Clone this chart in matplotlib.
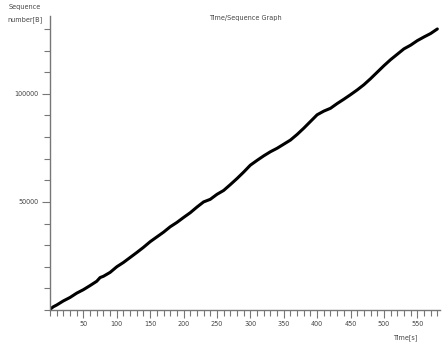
import matplotlib
matplotlib.use("Agg")
import matplotlib.pyplot as plt
from matplotlib.ticker import MultipleLocator, FixedLocator

time_s = [0, 2, 5, 10, 20, 30, 40, 50, 60, 70, 75, 80, 90, 100, 110, 120, 130, 140,
          150, 160, 170, 180, 190, 200, 210, 220, 230, 240, 250, 260, 270, 280,
          290, 300, 310, 320, 330, 340, 350, 360, 370, 380, 390, 400, 410, 420,
          430, 440, 450, 460, 470, 480, 490, 500, 510, 520, 530, 540, 550, 560,
          570, 580]
seq_b = [0, 800, 1500, 2300, 4200, 5800, 7800, 9400, 11300, 13300, 15000, 15600,
         17400, 20000, 22000, 24300, 26600, 29000, 31600, 33800, 36000, 38500,
         40500, 42800, 45000, 47600, 50000, 51200, 53500, 55300, 58000, 60800,
         63800, 67000, 69200, 71300, 73200, 74800, 76700, 78600, 81200, 84100,
         87200, 90300, 92000, 93300, 95500, 97500, 99600, 101800, 104200, 107000,
         110000, 113000, 115800, 118300, 120800, 122500, 124600, 126300, 127900,
         130000]

x_major = [50, 100, 150, 200, 250, 300, 350, 400, 450, 500, 550]
y_major = [50000, 100000]

W, H = 443, 342
fig = plt.figure(figsize=(W / 100, H / 100), dpi=100)
ax = fig.add_axes([50 / W, (H - 310) / H, (440 - 50) / W, (310 - 16) / H])

ax.plot(time_s, seq_b, color="black", linewidth=2.2, solid_capstyle="round")

ax.set_xlim(0, 584)
ax.set_ylim(0, 136000)
ax.xaxis.set_major_locator(FixedLocator(x_major))
ax.xaxis.set_minor_locator(MultipleLocator(10))
ax.yaxis.set_major_locator(FixedLocator(y_major))
ax.yaxis.set_minor_locator(MultipleLocator(10000))

for s in ["top", "right"]:
    ax.spines[s].set_visible(False)
for s in ["left", "bottom"]:
    ax.spines[s].set_color("#777777")
    ax.spines[s].set_linewidth(1.0)

ax.tick_params(axis="both", which="major", length=6, width=0.8, color="#777777",
               labelsize=4.7, labelcolor="#444444", pad=2)
ax.tick_params(axis="both", which="minor", length=4, width=0.8, color="#777777")

fig.text(25 / W, 1 - 7 / H, "Sequence", ha="center", va="center",
         fontsize=4.7, color="#444444")
fig.text(25 / W, 1 - 20 / H, "number[B]", ha="center", va="center",
         fontsize=4.7, color="#444444")
fig.text(245 / W, 1 - 18 / H, "Time/Sequence Graph", ha="center", va="center",
         fontsize=4.7, color="#444444")
fig.text(405 / W, 1 - 338 / H, "Time[s]", ha="center", va="center",
         fontsize=4.7, color="#444444")

fig.savefig("out.png", dpi=100)
